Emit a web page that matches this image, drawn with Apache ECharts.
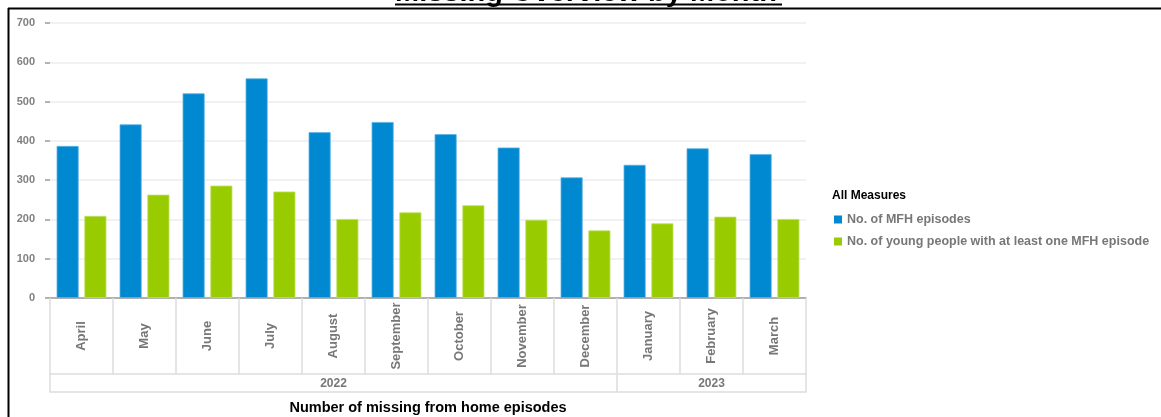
<!DOCTYPE html>
<html>
<head>
<meta charset="utf-8">
<title>Missing Overview by Month</title>
<script src="https://cdn.jsdelivr.net/npm/echarts@6/dist/echarts.min.js"></script>
<style>
  html, body { margin: 0; padding: 0; background: #fff; }
  #chart { width: 1161px; height: 417px; }
</style>
</head>
<body>
<div id="chart"></div>
<script>
// Month categories (April 2022 – March 2023)
const months = ['April', 'May', 'June', 'July', 'August', 'September',
  'October', 'November', 'December', 'January', 'February', 'March'];
// Year groups and how many months each spans
const years = ['2022', '2023'];
const yearSpans = [9, 3];
// Measures
const episodes = [387, 442, 521, 559, 422, 448, 417, 383, 307, 339, 381, 366];
const youngPeople = [209, 263, 286, 271, 201, 218, 236, 199, 172, 190, 207, 201];
const yTicks = [0, 100, 200, 300, 400, 500, 600, 700];

const FONT = '"Liberation Sans", Arial, sans-serif';

// Year boundaries and centres on a 0..months.length scale
const yearBounds = [0];
yearSpans.forEach(s => yearBounds.push(yearBounds[yearBounds.length - 1] + s));
const yearCentres = years.map((_, i) => (yearBounds[i] + yearBounds[i + 1]) / 2);

const chart = echarts.init(document.getElementById('chart'), null, { renderer: 'canvas' });

chart.setOption({
  backgroundColor: '#ffffff',
  animation: false,
  textStyle: { fontFamily: FONT },
  title: [{
    text: 'All Measures',
    left: 827, top: 185,
    textStyle: { fontFamily: FONT, fontSize: 12, fontWeight: 'bold', color: '#000' }
  }],
  legend: {
    orient: 'vertical',
    left: 829, top: 208,
    itemWidth: 8, itemHeight: 8, itemGap: 9,
    icon: 'rect',
    itemStyle: { borderWidth: 0 },
    textStyle: { fontFamily: FONT, fontSize: 12.5, fontWeight: 'bold', color: '#777' },
    data: ['No. of MFH episodes', 'No. of young people with at least one MFH episode']
  },
  grid: { left: 50, right: 355, top: 23, bottom: 119, containLabel: false, outerBoundsMode: 'none' },
  xAxis: [{
    type: 'category',
    data: months,
    position: 'bottom',
    axisLine: { show: true, lineStyle: { color: '#9a9a9a', width: 1.5 } },
    axisTick: { show: true, interval: 0, length: 76, lineStyle: { color: '#dddddd', width: 1.5 } },
    axisLabel: {
      interval: 0, rotate: 90, margin: 38,
      align: 'center', verticalAlign: 'middle',
      fontFamily: FONT, fontSize: 13, fontWeight: 'bold', color: '#777'
    },
    splitLine: { show: false }
  }, {
    type: 'value',
    min: 0, max: months.length,
    position: 'bottom', offset: 76,
    axisLine: { show: true, lineStyle: { color: '#dddddd', width: 1.5 } },
    axisTick: { show: true, customValues: yearBounds, length: 18, lineStyle: { color: '#dddddd', width: 1.5 } },
    axisLabel: {
      customValues: yearCentres, margin: 4,
      formatter: v => years[yearCentres.indexOf(v)] || '',
      fontFamily: FONT, fontSize: 12, fontWeight: 'bold', color: '#777'
    },
    splitLine: { show: false }
  }, {
    type: 'value',
    min: 0, max: months.length,
    position: 'bottom', offset: 94,
    axisLine: { show: true, lineStyle: { color: '#dddddd', width: 1.5 } },
    axisTick: { show: false },
    axisLabel: { show: false },
    splitLine: { show: false },
    name: 'Number of missing from home episodes',
    nameLocation: 'middle', nameGap: 8,
    nameTextStyle: { fontFamily: FONT, fontSize: 14.5, fontWeight: 'bold', color: '#000', verticalAlign: 'top' }
  }],
  yAxis: {
    type: 'value',
    min: yTicks[0], max: yTicks[yTicks.length - 1], interval: 100,
    offset: 2,
    axisLine: { show: false },
    axisTick: { show: true, length: 5, lineStyle: { color: '#9a9a9a', width: 1.5 } },
    axisLabel: { margin: 13, fontFamily: FONT, fontSize: 11, fontWeight: 'bold', color: '#808080' },
    splitLine: { show: true, lineStyle: { color: '#ececec', width: 1.5 } }
  },
  series: [{
    name: 'No. of MFH episodes',
    type: 'bar',
    data: episodes,
    barCategoryGap: '21%', barGap: '26%',
    itemStyle: { color: '#0088d1', borderColor: '#5ab3e4', borderWidth: 0.8 }
  }, {
    name: 'No. of young people with at least one MFH episode',
    type: 'bar',
    data: youngPeople,
    barCategoryGap: '21%', barGap: '26%',
    itemStyle: { color: '#99cc00', borderColor: '#c0e060', borderWidth: 0.8 }
  }],
  graphic: [
    // page title sits above the frame, mostly outside the view
    { type: 'text', left: 395, top: -22,
      style: { text: 'Missing Overview by Month', font: 'bold 29px ' + FONT, fill: '#000' } },
    { type: 'line', shape: { x1: 395, y1: 4.5, x2: 782, y2: 4.5 }, style: { stroke: '#000', lineWidth: 2 } },
    // frame
    { type: 'line', shape: { x1: 8, y1: 8.5, x2: 1161, y2: 8.5 }, style: { stroke: '#000', lineWidth: 2 } },
    { type: 'line', shape: { x1: 8.5, y1: 8, x2: 8.5, y2: 417 }, style: { stroke: '#000', lineWidth: 2 } }
  ]
});
</script>
</body>
</html>
